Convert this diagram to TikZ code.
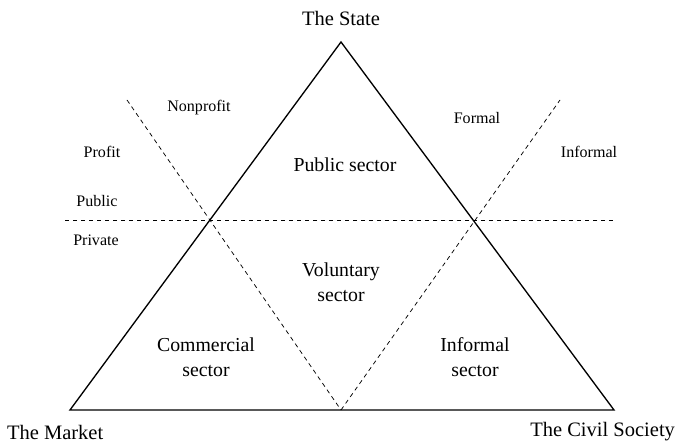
\documentclass[tikz,border=0pt]{standalone}
\usepackage{fontspec}
\setmainfont{Liberation Serif}
\begin{document}
\begin{tikzpicture}
                            \useasboundingbox (0,0) rectangle (20.460000,13.320000);
                            {\fontsize{13.7}{16}\selectfont

                            % Corners of the triangle
                            \coordinate (state) at (10.230000,12.060000);%
                            \coordinate (market) at (2.100000,1.020000);%
                            \coordinate (civil) at (18.420000,1.020000);%
                            \coordinate (mid) at (10.230000,1.020000);%

                            % Drawing triangle
                            \draw [line width=0.040cm, line join=miter] (state) -- (market) -- (civil) -- cycle;%

                            % Drawing line public/private
                            \coordinate (pp0) at (1.950000,6.720000);%
                            \coordinate (pp1) at (18.390000,6.720000);%
                            \draw [line width=0.022cm, dash pattern=on 0.13cm off 0.11cm] (pp0) -- (pp1);%

                            % Drawing line profit/nonprofit
                            \coordinate (np) at (3.810000,10.320000);%
                            \draw [line width=0.022cm, dash pattern=on 0.13cm off 0.11cm] (np) -- (mid);%

                            % Drawing line formal/informal
                            \coordinate (fi) at (16.800000,10.320000);%
                            \draw [line width=0.022cm, dash pattern=on 0.13cm off 0.11cm] (mid) -- (fi);%

                            % Marking points on the left
                            \draw (5.970000,10.080000) node (nonprofit) { Nonprofit };%
                            \draw (3.060000,8.760000) node (profit) { Profit };%
                            \draw (2.910000,7.290000) node (public) { Public };%
                            \draw (2.880000,6.120000) node (private) { Private };%

                            % Marking points on the right
                            \draw (14.310000,9.780000) node (formal) { Formal };%
                            \draw (17.670000,8.760000) node (informal) { Informal };%
                            }

                            {\fontsize{16.9}{21}\selectfont
                            % Marking sectors
                            \draw (10.350000,8.370000) node (publicsec) { Public sector };%
                            \draw (10.230000,4.860000) node [align=center] (volsec) { Voluntary\\sector };%
                            \draw (6.180000,2.610000) node [align=center] (comsec) { Commercial\\sector };%
                            \draw (14.250000,2.610000) node [align=center] (infsec) { Informal\\sector };%
                            }

                            {\fontsize{17.5}{21}\selectfont
                            % Marking corners
                            \draw (10.230000,12.780000) node (statelbl) { The State };%
                            \draw (0.000000,0.360000) node [anchor=west] (marketlbl) { The Market };%
                            \draw (20.460000,0.360000) node [anchor=east] (civillbl) { The Civil Society };%
                            }
                        \end{tikzpicture}
\end{document}
